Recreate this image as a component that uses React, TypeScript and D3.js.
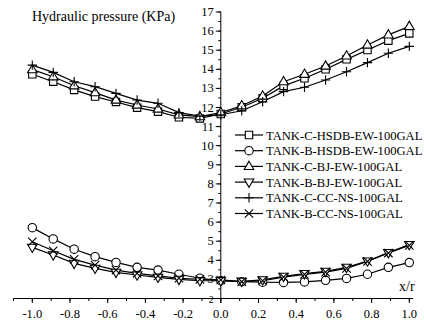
import { useMemo } from "react";
import { line, range, scaleLinear } from "d3";

const W = 424;
const H = 321;

const xr = [-1, -0.889, -0.778, -0.667, -0.556, -0.444, -0.333, -0.222, -0.111, 0, 0.111, 0.222, 0.333, 0.444, 0.556, 0.667, 0.778, 0.889, 1];

const cHsdb = [13.74, 13.35, 12.92, 12.57, 12.29, 11.99, 11.78, 11.49, 11.43, 11.66, 12.01, 12.48, 13.13, 13.53, 14.0, 14.52, 15.01, 15.5, 15.88];
const bHsdb = [5.71, 5.12, 4.58, 4.19, 3.89, 3.63, 3.49, 3.27, 3.06, 2.93, 2.88, 2.85, 2.84, 2.87, 2.95, 3.05, 3.27, 3.63, 3.88];
const cBj = [13.98, 13.61, 13.14, 12.78, 12.39, 12.13, 11.92, 11.61, 11.52, 11.73, 12.09, 12.6, 13.35, 13.74, 14.17, 14.7, 15.27, 15.8, 16.25];
const bBj = [4.68, 4.28, 3.84, 3.58, 3.37, 3.23, 3.11, 3.0, 2.93, 2.93, 2.9, 2.98, 3.16, 3.3, 3.42, 3.63, 3.96, 4.4, 4.82];
const cCc = [14.22, 13.84, 13.35, 13.09, 12.74, 12.39, 12.22, 11.73, 11.55, 11.62, 11.83, 12.3, 12.83, 13.06, 13.44, 13.87, 14.35, 14.84, 15.2];
const bCc = [4.97, 4.5, 4.05, 3.75, 3.49, 3.32, 3.18, 3.06, 3.0, 2.97, 2.88, 2.93, 3.12, 3.26, 3.38, 3.58, 3.94, 4.38, 4.78];

const seriesNames = [
  "TANK-C-HSDB-EW-100GAL",
  "TANK-B-HSDB-EW-100GAL",
  "TANK-C-BJ-EW-100GAL",
  "TANK-B-BJ-EW-100GAL",
  "TANK-C-CC-NS-100GAL",
  "TANK-B-CC-NS-100GAL",
];
const seriesValues = [cHsdb, bHsdb, cBj, bBj, cCc, bCc];
const markers = ["square", "circle", "up", "down", "plus", "cross"];

const xTicks = [-1.0, -0.8, -0.6, -0.4, -0.2, 0.0, 0.2, 0.4, 0.6, 0.8, 1.0];
const yTicks = [2, 3, 4, 5, 6, 7, 8, 9, 10, 11, 12, 13, 14, 15, 16, 17];

const FONT = "Liberation Serif, Times New Roman, serif";

function markerPath(kind: string) {
  switch (kind) {
    case "square":
      return "M-3.7,-3.7H3.7V3.7H-3.7Z";
    case "circle":
      return "M4.2,0A4.2,4.2 0 1,1 -4.2,0A4.2,4.2 0 1,1 4.2,0Z";
    case "up":
      return "M0,-5.2L4.8,3.1H-4.8Z";
    case "down":
      return "M0,5.2L4.8,-3.1H-4.8Z";
    case "plus":
      return "M-4.7,0H4.7M0,-4.7V4.7";
    default:
      return "M-4.2,-4.2L4.2,4.2M-4.2,4.2L4.2,-4.2";
  }
}

function Marker({ kind, x, y }: { kind: string; x: number; y: number }) {
  const open = kind === "plus" || kind === "cross";
  return (
    <path
      d={markerPath(kind)}
      transform={`translate(${x},${y})`}
      fill={open ? "none" : "#fff"}
      stroke="#000"
      strokeWidth={1.1}
    />
  );
}

export default function App() {
  const x = useMemo(() => scaleLinear().domain([-1, 1]).range([32.3, 409.3]), []);
  const y = useMemo(() => scaleLinear().domain([2, 17]).range([298.5, 12]), []);
  const lineGen = line<number>().x((_, i) => x(xr[i])).y((v) => y(v));

  const minorX = range(-11, 11).map((k) => k / 10);
  const minorY = range(4, 35).map((k) => k / 2);

  return (
    <svg width={W} height={H} style={{ position: "absolute", left: 0, top: 0, background: "#fff", fontFamily: FONT }}>
      <text x={32} y={21} fontSize={14}>Hydraulic pressure (KPa)</text>
      <text x={399} y={291} fontSize={14}>x/r</text>

      {/* x axis */}
      <line x1={x(-1.1)} x2={x(1.02)} y1={y(2)} y2={y(2)} stroke="#000" />
      {minorX.map((t) => (
        <line key={`mx${t}`} x1={x(t)} x2={x(t)} y1={y(2)} y2={y(2) + 2.5} stroke="#000" />
      ))}
      {xTicks.map((t) => (
        <g key={`x${t}`}>
          <line x1={x(t)} x2={x(t)} y1={y(2)} y2={y(2) + 4.5} stroke="#000" />
          <text x={x(t)} y={318} fontSize={12.5} textAnchor="middle">{t.toFixed(1)}</text>
        </g>
      ))}

      {/* y axis */}
      <line x1={x(0)} x2={x(0)} y1={y(17)} y2={y(2) + 4.5} stroke="#000" />
      {minorY.map((t) => (
        <line key={`my${t}`} x1={x(0) - 2.5} x2={x(0)} y1={y(t)} y2={y(t)} stroke="#000" />
      ))}
      {yTicks.map((t) => (
        <g key={`y${t}`}>
          <line x1={x(0) - 5} x2={x(0)} y1={y(t)} y2={y(t)} stroke="#000" />
          <text x={x(0) - 7} y={y(t) + 4} fontSize={t === 2 ? 10 : 12.5} textAnchor="end">{t}</text>
        </g>
      ))}

      {/* series */}
      {seriesValues.map((vals, s) => (
        <path key={`l${s}`} d={lineGen(vals) ?? ""} fill="none" stroke="#000" strokeWidth={1.2} />
      ))}
      {seriesValues.map((vals, s) => (
        <g key={`m${s}`}>
          {vals.map((v, i) => (
            <Marker key={i} kind={markers[s]} x={x(xr[i])} y={y(v)} />
          ))}
        </g>
      ))}

      {/* legend */}
      {seriesNames.map((name, s) => {
        const cy = 135 + s * 15.7;
        return (
          <g key={name}>
            <line x1={235} x2={263} y1={cy} y2={cy} stroke="#000" strokeWidth={1.2} />
            <Marker kind={markers[s]} x={249} y={cy} />
            <text x={266} y={cy + 4.5} fontSize={12.6}>{name}</text>
          </g>
        );
      })}
    </svg>
  );
}
